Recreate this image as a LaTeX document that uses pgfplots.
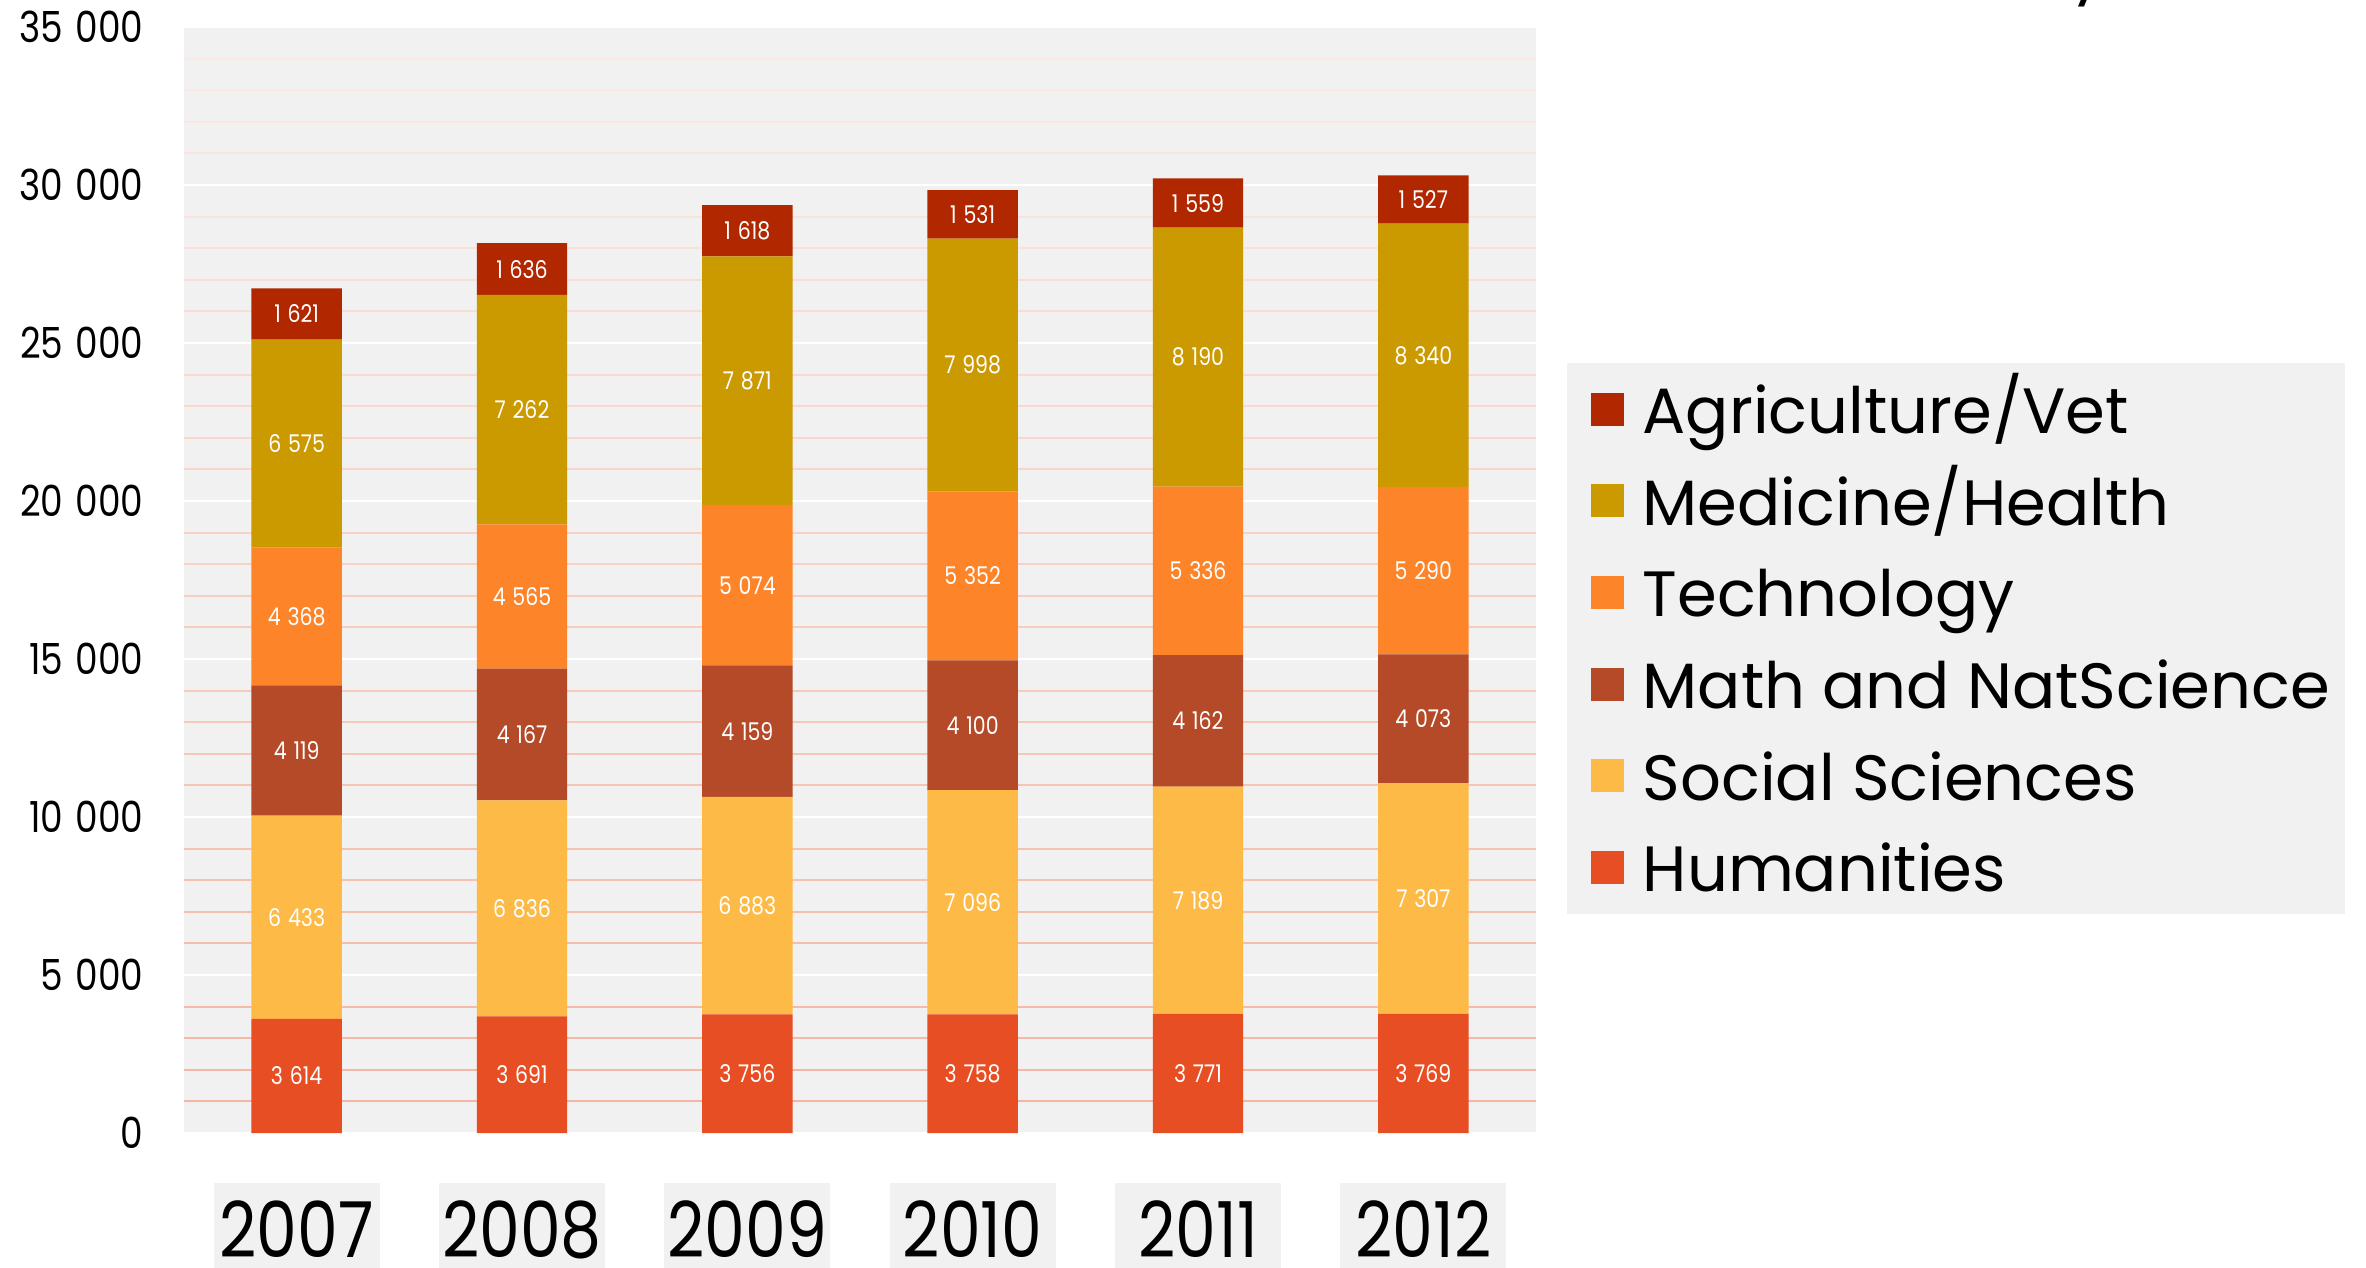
\documentclass[border=0pt]{standalone}
\usepackage{pgfplots}
\pgfplotsset{compat=1.18}
\usepackage{pgfplotstable}
\usepackage{fontspec}
\setmainfont{Poppins}
\newfontfamily\numfont{Poppins}[FakeStretch=0.84]
\definecolor{cHum}{HTML}{E84E23}
\definecolor{cSoc}{HTML}{FEBA47}
\definecolor{cMat}{HTML}{B44A27}
\definecolor{cTec}{HTML}{FE8429}
\definecolor{cMed}{HTML}{CB9900}
\definecolor{cAgr}{HTML}{B12800}
\definecolor{plotbg}{HTML}{F1F1F1}
\definecolor{gridlo}{HTML}{F4B4A0}
\definecolor{gridhi}{HTML}{FBEBE6}

\pgfplotstableread{
x hum soc mat tec med agr
0 3614 6433 4119 4368 6575 1621
1 3691 6836 4167 4565 7262 1636
2 3756 6883 4159 5074 7871 1618
3 3758 7096 4100 5352 7998 1531
4 3771 7189 4162 5336 8190 1559
5 3769 7307 4073 5290 8340 1527
}\datatable

\pgfkeys{/pgf/number format/.cd, 1000 sep={\hspace{0.28em}}, assume math mode=true}
\pgfplotsset{common/.style={
  scale only axis, width=338pt, height=276.5pt,
  xmin=-0.5, xmax=5.5, ymin=0, ymax=35000,
  at={(46pt,33.5pt)}, anchor=south west,
}}

\begin{document}
\begin{tikzpicture}
\useasboundingbox (0,0) rectangle (591.5pt,316.75pt);
% background with minor grid lines
\begin{axis}[common, axis background/.style={fill=plotbg},
  axis line style={draw=none}, xtick=\empty, ytick=\empty]
\pgfplotsinvokeforeach{1,2,3,4,6,7,8,9,11,12,13,14,16,17,18,19,21,22,23,24,26,27,28,29,31,32,33,34}{
  \draw[line width=0.5pt, color=gridhi!\the\numexpr(#1*100)/35\relax!gridlo] (axis cs:-0.5,#1000) -- (axis cs:5.5,#1000);
}
\end{axis}
\begin{axis}[common,
  ybar stacked, bar width=22.6pt,
  axis line style={draw=none},
  major tick length=0pt, tick style={draw=none},
  xtick={0,1,2,3,4,5}, xticklabels={2007,2008,2009,2010,2011,2012},
  xticklabel style={font=\numfont\fontsize{19.3}{20}\selectfont, fill=plotbg, minimum width=41.5pt, inner xsep=0pt, inner ysep=5.25pt, text height=13.5pt, text depth=3pt, anchor=north},
  xticklabel shift=12.25pt,
  ytick={0,5000,...,35000},
  scaled y ticks=false,
  yticklabel style={font=\numfont\fontsize{10.7}{12}\selectfont, /pgf/number format/fixed, inner sep=0pt, anchor=east, xshift=-10pt},
  ymajorgrids, major grid style={white, line width=0.45pt},
  reverse legend,
  legend image code/.code={\path (0pt,0pt); \fill[#1] (2.25pt,-4.125pt) rectangle (10.5pt,4.125pt);},
  legend style={at={(1.0222,0.6971)}, anchor=north west, fill=plotbg, draw=none,
    font=\fontsize{16}{18}\selectfont, inner xsep=3.75pt, inner ysep=3.6pt,
    row sep=6.9pt,
    nodes={inner sep=0pt, text height=14.1pt, text depth=1.9pt},
    /tikz/every odd column/.append style={column sep=4.75pt}},
  legend cell align=left,
]
\addplot[fill=cHum, draw=none] table[x=x, y=hum]{\datatable};
\addlegendentry{Humanities}
\addplot[fill=cSoc, draw=none] table[x=x, y=soc]{\datatable};
\addlegendentry{Social Sciences}
\addplot[fill=cMat, draw=none] table[x=x, y=mat]{\datatable};
\addlegendentry{Math and NatScience}
\addplot[fill=cTec, draw=none] table[x=x, y=tec]{\datatable};
\addlegendentry{Technology}
\addplot[fill=cMed, draw=none] table[x=x, y=med]{\datatable};
\addlegendentry{Medicine/Health}
\addplot[fill=cAgr, draw=none] table[x=x, y=agr]{\datatable};
\addlegendentry{Agriculture/Vet}
\end{axis}
\begin{axis}[common, hide axis, nodes near coords, point meta=explicit,
  nodes near coords style={anchor=center, text=white, font=\numfont\fontsize{6.1}{7}\selectfont}]
\addplot[draw=none, mark=none] table[x=x, y expr=\thisrow{hum}/2, meta=hum]{\datatable};
\addplot[draw=none, mark=none] table[x=x, y expr=\thisrow{hum}+\thisrow{soc}/2, meta=soc]{\datatable};
\addplot[draw=none, mark=none] table[x=x, y expr=\thisrow{hum}+\thisrow{soc}+\thisrow{mat}/2, meta=mat]{\datatable};
\addplot[draw=none, mark=none] table[x=x, y expr=\thisrow{hum}+\thisrow{soc}+\thisrow{mat}+\thisrow{tec}/2, meta=tec]{\datatable};
\addplot[draw=none, mark=none] table[x=x, y expr=\thisrow{hum}+\thisrow{soc}+\thisrow{mat}+\thisrow{tec}+\thisrow{med}/2, meta=med]{\datatable};
\addplot[draw=none, mark=none] table[x=x, y expr=\thisrow{hum}+\thisrow{soc}+\thisrow{mat}+\thisrow{tec}+\thisrow{med}+\thisrow{agr}/2, meta=agr]{\datatable};
\end{axis}
\node[anchor=base, font=\fontsize{16}{20}\selectfont] at (522pt,319pt) {y};
\end{tikzpicture}
\end{document}
